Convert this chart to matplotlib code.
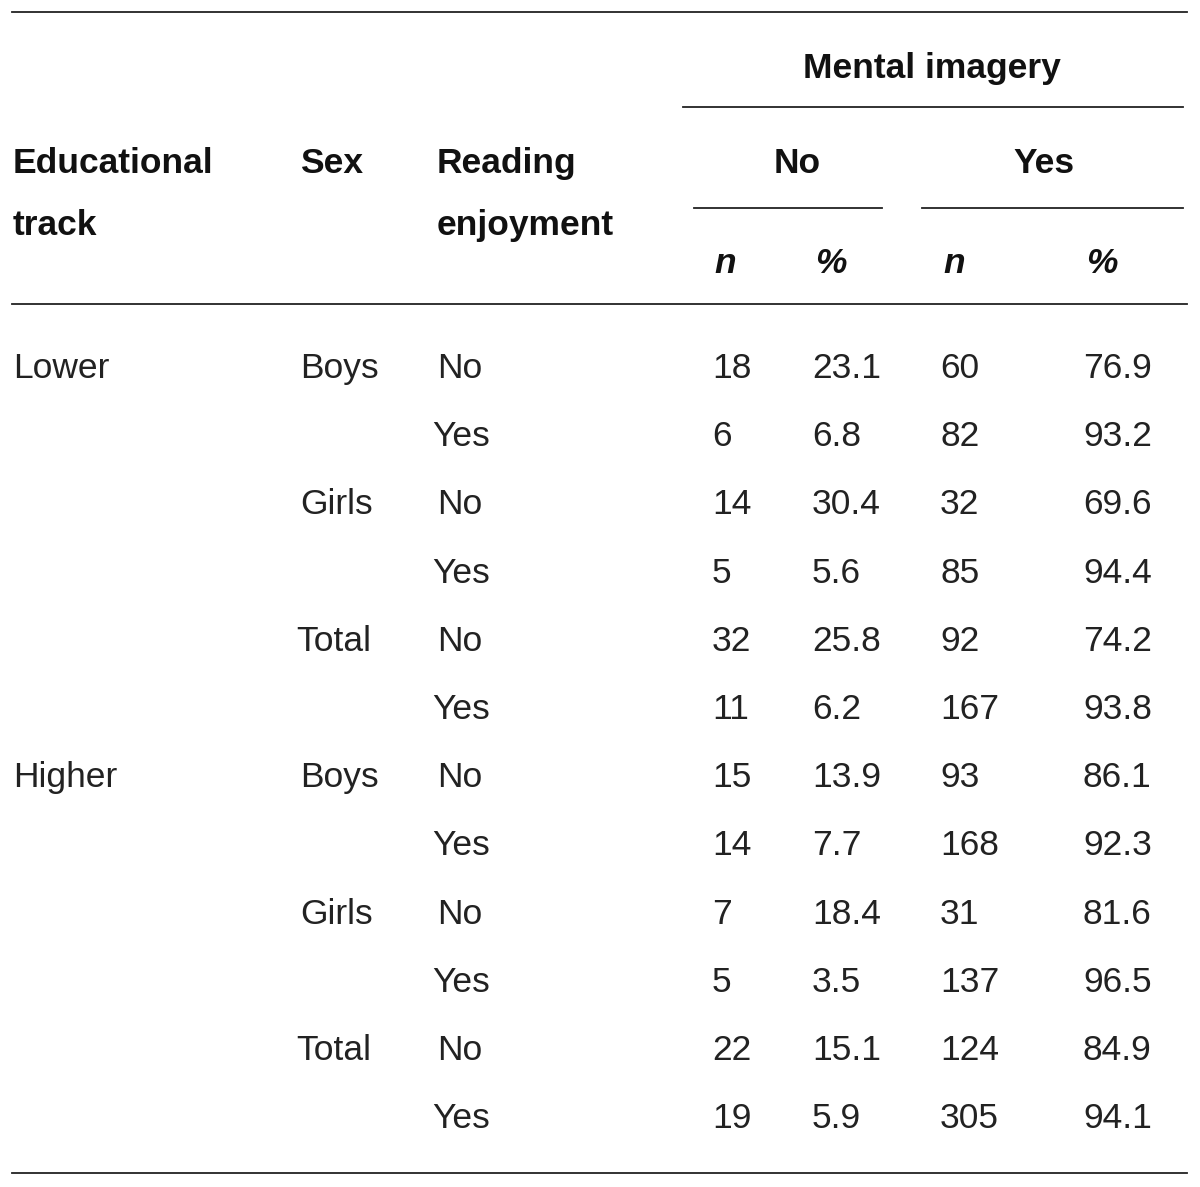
import matplotlib
matplotlib.use("Agg")
import matplotlib.pyplot as plt
from matplotlib.lines import Line2D

# table contents
tracks = ["Lower", "", "", "", "", "", "Higher", "", "", "", "", ""]
sexes = ["Boys", "", "Girls", "", "Total", "", "Boys", "", "Girls", "", "Total", ""]
enjoyment = ["No", "Yes"] * 6
n_no = ["18", "6", "14", "5", "32", "11", "15", "14", "7", "5", "22", "19"]
pct_no = ["23.1", "6.8", "30.4", "5.6", "25.8", "6.2", "13.9", "7.7", "18.4", "3.5", "15.1", "5.9"]
n_yes = ["60", "82", "32", "85", "92", "167", "93", "168", "31", "137", "124", "305"]
pct_yes = ["76.9", "93.2", "69.6", "94.4", "74.2", "93.8", "86.1", "92.3", "81.6", "96.5", "84.9", "94.1"]

W, H = 1200, 1187
fig = plt.figure(figsize=(W / 100, H / 100), dpi=100)
fig.patch.set_facecolor("white")

plt.rcParams['font.family'] = ['Liberation Sans', 'DejaVu Sans']
FS = 25.5
FS_HEAD = 25.5
TXT = "#222222"


def put(x, y, s, **kw):
    # pixel coords from top-left
    kw.setdefault("fontsize", FS)
    kw.setdefault("color", TXT)
    kw.setdefault("va", "center_baseline")
    fig.text(x / W, 1 - y / H, s, **kw)


def head(x, y, s, **kw):
    put(x, y, s, fontsize=FS_HEAD, fontweight="bold", color="#111111", **kw)


def hline(x0, x1, y, lw=1.3):
    fig.add_artist(Line2D([x0 / W, x1 / W], [1 - y / H, 1 - y / H],
                          transform=fig.transFigure, color="#222222", lw=lw))


# rules
hline(12, 1187, 12)
hline(683, 1183, 107)
hline(694, 882, 208)
hline(922, 1183, 208)
hline(12, 1187, 304)
hline(12, 1187, 1173)

# header
head(932, 65, "Mental imagery", ha="center")
head(13, 160, "Educational")
head(13, 222, "track")
head(300, 160, "Sex")
head(437, 160, "Reading")
head(437, 222, "enjoyment")
head(797, 160, "No", ha="center")
head(1044, 160, "Yes", ha="center")
head(714, 260, "n", style="italic")
head(815, 260, "%", style="italic")
head(943, 260, "n", style="italic")
head(1086, 260, "%", style="italic")

# body rows
row_y0, row_dy = 365, 68.2
for i in range(len(enjoyment)):
    y = row_y0 + i * row_dy
    put(13, y, tracks[i])
    sx = 296 if sexes[i] == "Total" else 300
    put(sx, y, sexes[i])
    put(437 if enjoyment[i] == "No" else 432, y, enjoyment[i])
    put(712, y, n_no[i])
    put(812, y, pct_no[i])
    put(940, y, n_yes[i])
    put(1083, y, pct_yes[i])

fig.savefig("out.png", dpi=100, facecolor="white")
